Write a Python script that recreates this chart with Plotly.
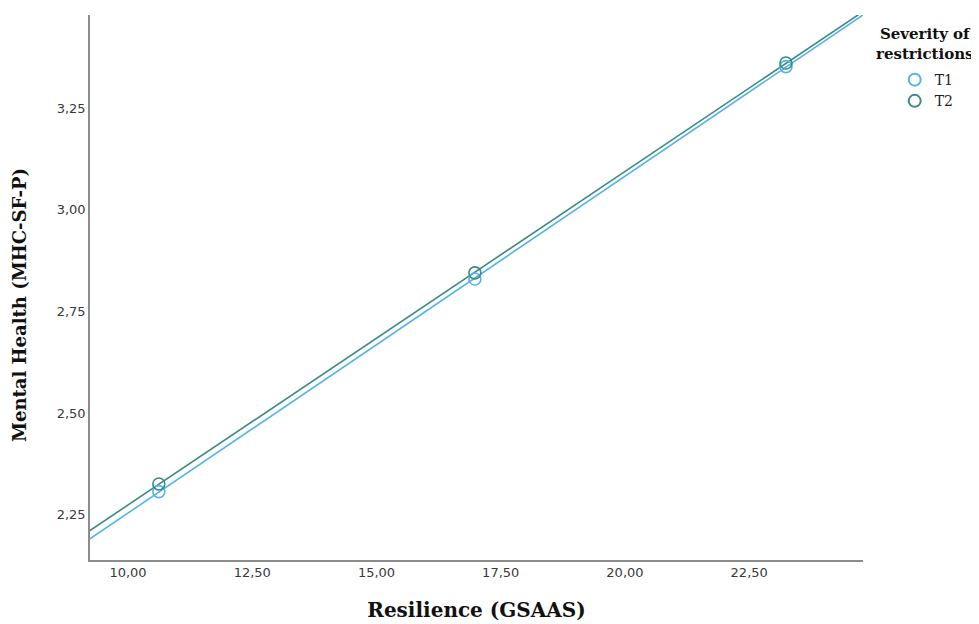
import numpy as np
import plotly.graph_objects as go

# Data
groups = ["T1", "T2"]
resilience_points = [10.62, 16.98, 23.24]
mh_t1 = [2.307, 2.830, 3.352]
mh_t2 = [2.326, 2.845, 3.361]
colors = {"T1": "#52b4ee", "T2": "#3f8a82"}

x_range = [9.235, 24.79]
y_range = [2.139, 3.479]
x_ticks = [10.0, 12.5, 15.0, 17.5, 20.0, 22.5]
x_ticktext = ["10,00", "12,50", "15,00", "17,50", "20,00", "22,50"]
y_ticks = [2.25, 2.50, 2.75, 3.00, 3.25]
y_ticktext = ["2,25", "2,50", "2,75", "3,00", "3,25"]

series = {"T1": mh_t1, "T2": mh_t2}

fig = go.Figure()
xs = np.array(resilience_points)
line_x = np.array([x_range[0] - 0.5, x_range[1] + 0.5])
for g in groups:
    ys = np.array(series[g])
    slope, intercept = np.polyfit(xs, ys, 1)
    fig.add_trace(go.Scatter(
        x=line_x, y=slope * line_x + intercept, mode="lines",
        line=dict(color=colors[g], width=1.6), showlegend=False, hoverinfo="skip"))
for g in groups:
    fig.add_trace(go.Scatter(
        x=resilience_points, y=series[g], mode="markers", name=g,
        marker=dict(symbol="circle-open", size=12, color=colors[g],
                    line=dict(width=1.6, color=colors[g])),
        cliponaxis=False))

serif = "DejaVu Serif"
fig.update_layout(
    width=971, height=616,
    margin=dict(l=82, r=116, t=7, b=64),
    plot_bgcolor="white", paper_bgcolor="white",
    showlegend=True,
    legend=dict(x=1.041, xanchor="left", y=0.91, yanchor="top",
                font=dict(family=serif, size=14, color="#222"),
                tracegroupgap=0, itemsizing="constant", bgcolor="rgba(0,0,0,0)"),
    xaxis=dict(range=x_range, tickvals=x_ticks, ticktext=x_ticktext,
               showgrid=False, zeroline=False, showline=True,
               linecolor="#8c8c8c", linewidth=1.5, ticks="", automargin=False,
               tickfont=dict(family="DejaVu Sans", size=13, color="#3a3a3a"),
               title=dict(text="<b>Resilience (GSAAS)</b>",
                          font=dict(family=serif, size=20, color="#111"),
                          standoff=24)),
    yaxis=dict(range=y_range, tickvals=y_ticks, ticktext=y_ticktext,
               showgrid=False, zeroline=False, showline=True,
               linecolor="#8c8c8c", linewidth=1.5, ticks="", automargin=False,
               tickfont=dict(family="DejaVu Sans", size=13, color="#3a3a3a")),
    annotations=[
        dict(text="<b>Severity of<br>restrictions</b>", xref="paper", yref="paper",
             x=1.080, y=0.985, xanchor="center", yanchor="top", showarrow=False,
             align="center", font=dict(family=serif, size=15, color="#111")),
        dict(text="<b>Mental Health (MHC-SF-P)</b>", xref="paper", yref="paper",
             x=-0.0905, y=0.468, xanchor="center", yanchor="middle", showarrow=False,
             textangle=-90, font=dict(family=serif, size=18, color="#111")),
    ],
)

fig.write_html("out.html")
